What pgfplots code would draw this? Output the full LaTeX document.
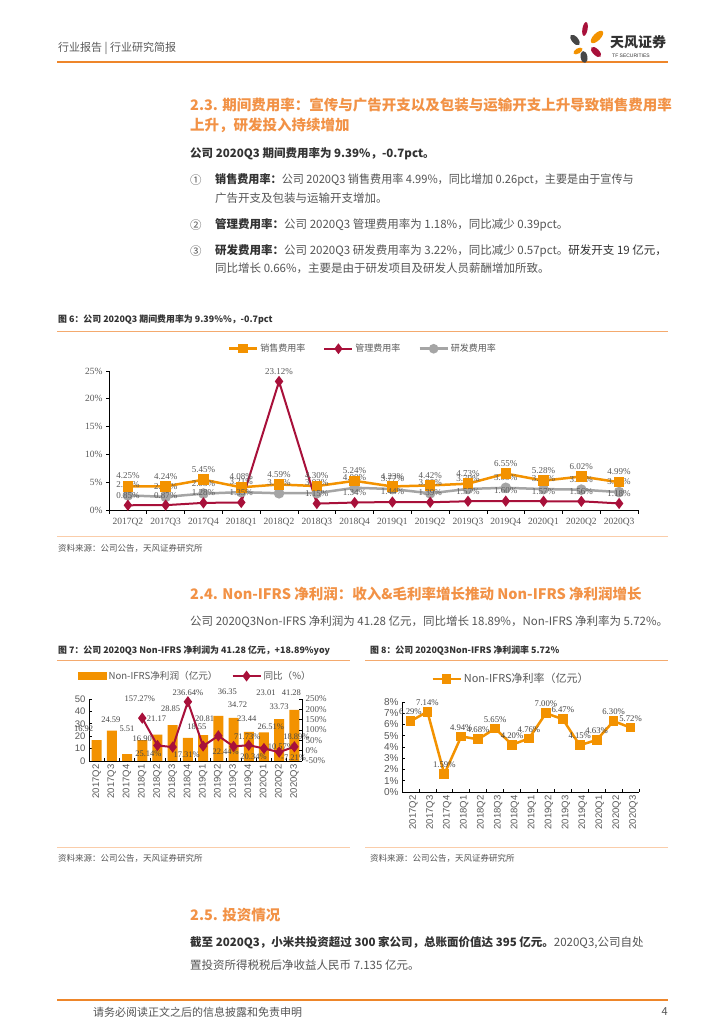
\documentclass[border=0pt]{standalone}
\usepackage{pgfplots}
\pgfplotsset{compat=1.18}
\usepackage{fontspec}
\setmainfont{Noto Sans CJK SC}
\newfontfamily\tnr{Liberation Serif}
\newfontfamily\arial{Liberation Sans}
\definecolor{hdrorange}{RGB}{238,134,42}
\definecolor{titleorange}{RGB}{242,146,70}
\definecolor{barorange}{RGB}{243,146,0}
\definecolor{crimson}{RGB}{168,16,58}
\definecolor{lgray}{RGB}{165,165,165}
\definecolor{dgray}{RGB}{70,70,70}
\definecolor{capline}{RGB}{244,170,110}
\definecolor{peach}{RGB}{250,205,170}
\definecolor{bodytxt}{RGB}{85,85,85}
\definecolor{boldtxt}{RGB}{50,50,50}
\definecolor{lbl}{RGB}{89,89,89}
\pgfplotsset{
  myline/.style={legend image code/.code={\draw[mark repeat=2,mark phase=2,##1] plot coordinates {(0pt,0pt) (14pt,0pt) (28pt,0pt)};}},
}
\begin{document}
\begin{tikzpicture}
\fill[white] (0,0) rectangle (724pt,1024pt);

% ---------------- Chart 6 ----------------
\begin{axis}[
  at={(109pt,514pt)}, anchor=south west, scale only axis, width=529pt, height=139pt,
  xmin=-0.5, xmax=13.5, ymin=0, ymax=25,
  axis lines=left, axis line style={-, black, line width=0.8pt},
  xtick={0,...,13},
  xticklabels={2017Q2,2017Q3,2017Q4,2018Q1,2018Q2,2018Q3,2018Q4,2019Q1,2019Q2,2019Q3,2019Q4,2020Q1,2020Q2,2020Q3},
  major x tick style={draw=none},
  minor xtick={-0.5,0.5,...,13.5}, minor tick length=4pt,
  tick align=outside, major tick length=3pt, tick style={black, line width=0.6pt},
  ytick={0,5,...,25},
  yticklabel={\pgfmathprintnumber[assume math mode=true]{\tick}\%},
  ticklabel style={font=\tnr\fontsize{9.5}{10}\selectfont, text=lbl},
  xticklabel style={yshift=-1.5pt},
  clip=false,
  legend style={at={(0.48,1.16)}, anchor=center, draw=none, fill=none, legend columns=3,
    font=\fontsize{9}{10}\selectfont, text=lbl,
    /tikz/every even column/.append style={column sep=16pt}},
  myline,
]
\addlegendimage{barorange, line width=2.5pt, mark=square*, mark size=3.5pt}
\addlegendentry{销售费用率}
\addlegendimage{crimson, line width=2pt, mark=diamond*, mark size=3.8pt}
\addlegendentry{管理费用率}
\addlegendimage{lgray, line width=2.5pt, mark=*, mark size=3.5pt}
\addlegendentry{研发费用率}
\addplot[lgray, line width=2.5pt, mark=*, mark size=4pt, forget plot,
  nodes near coords, point meta=explicit symbolic,
  every node near coord/.append style={font=\tnr\fontsize{9}{10}\selectfont, text=lbl, anchor=south, inner sep=1pt, yshift=5pt}]
 coordinates {(0,2.63)[2.63\%] (1,2.36)[2.36\%] (2,2.95)[2.95\%] (3,3.21)[3.21\%] (4,3.01)[3.01\%] (5,3.02)[3.02\%] (6,4.00)[4.00\%] (7,3.77)[3.77\%] (8,3.00)[3.00\%] (9,3.79)[3.79\%] (10,3.99)[3.99\%] (11,3.76)[3.76\%] (12,3.66)[3.66\%] (13,3.22)[3.22\%]};
\addplot[barorange, line width=2.5pt, mark=square*, mark size=4pt, forget plot,
  nodes near coords, point meta=explicit symbolic,
  every node near coord/.append style={font=\tnr\fontsize{9}{10}\selectfont, text=lbl, anchor=south, inner sep=1pt, yshift=5pt}]
 coordinates {(0,4.25)[4.25\%] (1,4.24)[4.24\%] (2,5.45)[5.45\%] (3,4.08)[4.08\%] (4,4.59)[4.59\%] (5,4.30)[4.30\%] (6,5.24)[5.24\%] (7,4.23)[4.23\%] (8,4.42)[4.42\%] (9,4.73)[4.73\%] (10,6.55)[6.55\%] (11,5.28)[5.28\%] (12,6.02)[6.02\%] (13,4.99)[4.99\%]};
\addplot[crimson, line width=2pt, mark=diamond*, mark size=4pt, forget plot,
  nodes near coords, point meta=explicit symbolic,
  every node near coord/.append style={font=\tnr\fontsize{9}{10}\selectfont, text=lbl, anchor=south, inner sep=1pt, yshift=5pt}]
 coordinates {(0,0.85)[0.85\%] (1,0.87)[0.87\%] (2,1.28)[1.28\%] (3,1.35)[1.35\%] (4,23.12)[23.12\%] (5,1.15)[1.15\%] (6,1.34)[1.34\%] (7,1.44)[1.44\%] (8,1.39)[1.39\%] (9,1.57)[1.57\%] (10,1.60)[1.60\%] (11,1.57)[1.57\%] (12,1.56)[1.56\%] (13,1.18)[1.18\%]};
\end{axis}

% ---------------- Chart 7 ----------------
\begin{axis}[
  at={(89pt,263pt)}, anchor=south west, scale only axis, width=213pt, height=62pt,
  xmin=-0.5, xmax=13.5, ymin=0, ymax=50,
  axis x line*=bottom, axis y line*=left, axis line style={-, black, line width=0.8pt},
  xtick={0,...,13},
  xticklabels={2017Q2,2017Q3,2017Q4,2018Q1,2018Q2,2018Q3,2018Q4,2019Q1,2019Q2,2019Q3,2019Q4,2020Q1,2020Q2,2020Q3},
  major x tick style={draw=none},
  minor xtick={-0.5,0.5,...,13.5}, minor tick length=3pt,
  tick align=inside, major tick length=3pt, tick style={black, line width=0.6pt},
  xticklabel style={rotate=90, anchor=east, font=\arial\fontsize{9.5}{10}\selectfont, text=lbl},
  ytick={0,10,...,50},
  yticklabel style={font=\arial\fontsize{9.5}{10}\selectfont, text=lbl},
  /pgf/number format/assume math mode=true,
  clip=false,
  legend style={at={(0.5,1.37)}, anchor=center, draw=none, fill=none, legend columns=2,
    font=\fontsize{9.6}{10}\selectfont, text=lbl,
    /tikz/every even column/.append style={column sep=12pt}},
]
\addlegendimage{legend image code/.code={\fill[barorange] (0pt,-3.5pt) rectangle (28pt,3.5pt);}}
\addlegendentry{Non-IFRS净利润（亿元）}
\addlegendimage{crimson, line width=2pt, mark=diamond*, mark size=3.8pt, myline}
\addlegendentry{同比（\%）}
\addplot[ybar, bar width=10pt, fill=barorange, draw=none, forget plot,
  nodes near coords={\pgfmathprintnumber[fixed,fixed zerofill,precision=2,assume math mode=true]{\pgfplotspointmeta}},
  point meta=explicit,
  visualization depends on={\thisrow{dx}\as\dx},
  visualization depends on={\thisrow{dy}\as\dy},
  every node near coord/.append style={font=\tnr\fontsize{8.5}{9}\selectfont, text=dgray, anchor=center, inner sep=0pt, xshift=\dx*1pt, yshift=\dy*1pt}]
 table[x=x, y=y, meta=y] {
x y dx dy
0 16.92 -13 11
1 24.59 -1 10.5
2 5.51 0 25
3 16.90 0 1
4 21.17 -1 15.7
5 28.85 -2 16
6 18.55 9 11
7 20.81 1.5 16
8 36.35 9 24
9 34.72 4 13
10 23.44 -2 13
11 23.01 2 39.5
12 33.73 0 12
13 41.28 -3 17
};
\end{axis}
\begin{axis}[
  at={(89pt,263pt)}, anchor=south west, scale only axis, width=213pt, height=62pt,
  xmin=-0.5, xmax=13.5, ymin=-50, ymax=250,
  axis x line=none, axis y line*=right, axis line style={-, black, line width=0.8pt},
  ytick={-50,0,...,250},
  yticklabel={\pgfmathprintnumber[assume math mode=true]{\tick}\%},
  yticklabel style={font=\tnr\fontsize{9}{10}\selectfont, text=lbl},
  tick align=inside, major tick length=3pt, tick style={black, line width=0.6pt},
  clip=false,
]
\addplot[crimson, line width=2pt, mark=diamond*, mark size=4pt,
  nodes near coords={\pgfmathprintnumber[fixed,fixed zerofill,precision=2,assume math mode=true]{\pgfplotspointmeta}\%},
  point meta=explicit,
  visualization depends on={\thisrow{dx}\as\dx},
  visualization depends on={\thisrow{dy}\as\dy},
  every node near coord/.append style={font=\tnr\fontsize{8.5}{9}\selectfont, text=dgray, anchor=center, inner sep=0pt, xshift=\dx*1pt, yshift=\dy*1pt}]
 table[x=x, y=y, meta=y] {
x y dx dy
3 157.27 -2.5 19
4 25.14 -9 -8.5
5 17.31 14 -8
6 236.64 0 9
7 22.44 22.5 -6
8 71.73 29 -1
9 20.34 20 -10.5
10 26.51 22 18
11 10.57 17 1.5
12 -7.21 14.4 -6
13 18.89 2 10
};
\end{axis}

% ---------------- Chart 8 ----------------
\begin{axis}[
  at={(402pt,232pt)}, anchor=south west, scale only axis, width=237pt, height=90pt,
  xmin=-0.5, xmax=13.5, ymin=0, ymax=8,
  axis x line*=bottom, axis y line*=left, axis line style={-, black, line width=0.8pt},
  xtick={0,...,13},
  xticklabels={2017Q2,2017Q3,2017Q4,2018Q1,2018Q2,2018Q3,2018Q4,2019Q1,2019Q2,2019Q3,2019Q4,2020Q1,2020Q2,2020Q3},
  major x tick style={draw=none},
  minor xtick={-0.5,0.5,...,13.5}, minor tick length=3pt,
  tick align=inside, major tick length=3pt, tick style={black, line width=0.6pt},
  xticklabel style={rotate=90, anchor=east, font=\arial\fontsize{9.5}{10}\selectfont, text=lbl, yshift=-3pt},
  ytick={0,1,...,8},
  yticklabel={\pgfmathprintnumber[assume math mode=true]{\tick}\%},
  yticklabel style={font=\arial\fontsize{10}{11}\selectfont, text=lbl},
  clip=false,
  legend style={at={(0.46,1.256)}, anchor=center, draw=none, fill=none,
    font=\fontsize{11}{12}\selectfont, text=lbl},
  myline,
]
\addplot[barorange, line width=2.5pt, mark=square*, mark size=3.6pt,
  nodes near coords, point meta=explicit symbolic,
  every node near coord/.append style={font=\tnr\fontsize{8.7}{9}\selectfont, text=dgray, anchor=south, inner sep=1pt, yshift=4pt}]
 coordinates {(0,6.29)[6.29\%] (1,7.14)[7.14\%] (2,1.59)[1.59\%] (3,4.94)[4.94\%] (4,4.68)[4.68\%] (5,5.65)[5.65\%] (6,4.20)[4.20\%] (7,4.76)[4.76\%] (8,7.00)[7.00\%] (9,6.47)[6.47\%] (10,4.15)[4.15\%] (11,4.63)[4.63\%] (12,6.30)[6.30\%] (13,5.72)[5.72\%]};
\addlegendentry{Non-IFRS净利率（亿元）}
\end{axis}

% ---------------- Page text ----------------
\begin{scope}[x=1pt, y=-1pt, yshift=1024pt]
% header
\node[anchor=west, inner sep=0, text=lbl, font=\fontsize{11}{12}\selectfont] at (58,48) {行业报告 | 行业研究简报};
\draw[hdrorange, line width=1.5pt] (57,62) -- (668,62);
% logo
\fill[crimson, rotate around={-10:(585,29)}] (585,29) ellipse (2.6pt and 7pt);
\fill[barorange, rotate around={-45:(597,37)}] (597,37) ellipse (3.6pt and 8pt);
\fill[dgray, rotate around={40:(575,40)}] (575,40) ellipse (3.2pt and 6.5pt);
\fill[barorange, rotate around={-60:(578,51)}] (578,51) ellipse (2.6pt and 5pt);
\fill[crimson, rotate around={45:(596,52)}] (596,52) ellipse (3.2pt and 6.5pt);
\fill[dgray, rotate around={10:(584,57)}] (584,57) ellipse (3.4pt and 6pt);
\node[anchor=west, inner sep=0, text=boldtxt, font=\fontsize{14}{15}\selectfont\bfseries] at (610,42) {天风证券};
\node[anchor=west, inner sep=0, text=boldtxt, font=\arial\fontsize{5}{6}\selectfont] at (612,56) {TF SECURITIES};

% section 2.3
\node[anchor=west, inner sep=0, text=titleorange, font=\fontsize{14.5}{15}\selectfont\bfseries] at (190,105) {2.3. 期间费用率：宣传与广告开支以及包装与运输开支上升导致销售费用率};
\node[anchor=west, inner sep=0, text=titleorange, font=\fontsize{14.5}{15}\selectfont\bfseries] at (190,125) {上升，研发投入持续增加};
\node[anchor=west, inner sep=0, text=boldtxt, font=\fontsize{11.5}{12}\selectfont\bfseries] at (190,154) {公司 2020Q3 期间费用率为 9.39\%，-0.7pct。};
\node[anchor=west, inner sep=0, text=bodytxt, font=\fontsize{11.5}{12}\selectfont] at (190,180) {①};
\node[anchor=west, inner sep=0, text=bodytxt, font=\fontsize{11.5}{12}\selectfont] at (215,180) {\scalebox{0.965}[1]{{\bfseries\color{boldtxt}销售费用率：}公司 2020Q3 销售费用率 4.99\%，同比增加 0.26pct，主要是由于宣传与}};
\node[anchor=west, inner sep=0, text=bodytxt, font=\fontsize{11.5}{12}\selectfont] at (215,198) {广告开支及包装与运输开支增加。};
\node[anchor=west, inner sep=0, text=bodytxt, font=\fontsize{11.5}{12}\selectfont] at (190,225) {②};
\node[anchor=west, inner sep=0, text=bodytxt, font=\fontsize{11.5}{12}\selectfont] at (215,225) {{\bfseries\color{boldtxt}管理费用率：}公司 2020Q3 管理费用率为 1.18\%，同比减少 0.39pct。};
\node[anchor=west, inner sep=0, text=bodytxt, font=\fontsize{11.5}{12}\selectfont] at (190,251) {③};
\node[anchor=west, inner sep=0, text=bodytxt, font=\fontsize{11.5}{12}\selectfont] at (215,251) {{\bfseries\color{boldtxt}研发费用率：}公司 2020Q3 研发费用率为 3.22\%，同比减少 0.57pct。{\color{boldtxt}研发开支 19 亿元，}};
\node[anchor=west, inner sep=0, text=bodytxt, font=\fontsize{11.5}{12}\selectfont] at (215,268) {同比增长 0.66\%，主要是由于研发项目及研发人员薪酬增加所致。};

% figure 6 caption
\node[anchor=west, inner sep=0, text=boldtxt, font=\fontsize{8.9}{9}\selectfont\bfseries] at (58,320) {图 6：公司 2020Q3 期间费用率为 9.39\%\%，-0.7pct};
\draw[capline, line width=1pt] (57,332) -- (668,332);
\draw[peach, line width=1pt] (57,537) -- (668,537);
\node[anchor=west, inner sep=0, text=bodytxt, font=\fontsize{8.5}{9}\selectfont] at (58,548) {资料来源：公司公告，天风证券研究所};

% section 2.4
\node[anchor=west, inner sep=0, text=titleorange, font=\fontsize{14.5}{15}\selectfont\bfseries] at (190,594) {2.4. Non-IFRS 净利润：收入\&毛利率增长推动 Non-IFRS 净利润增长};
\node[anchor=west, inner sep=0, text=bodytxt, font=\fontsize{11.5}{12}\selectfont] at (190,622) {公司 2020Q3Non-IFRS 净利润为 41.28 亿元，同比增长 18.89\%，Non-IFRS 净利率为 5.72\%。};

% figure 7/8 captions
\node[anchor=west, inner sep=0, text=boldtxt, font=\fontsize{8.9}{9}\selectfont\bfseries] at (58,651) {图 7：公司 2020Q3 Non-IFRS 净利润为 41.28 亿元，+18.89\%yoy};
\node[anchor=west, inner sep=0, text=boldtxt, font=\fontsize{8.9}{9}\selectfont\bfseries] at (370,651) {图 8：公司 2020Q3Non-IFRS 净利润率 5.72\%};
\draw[capline, line width=1pt] (57,661) -- (350,661);
\draw[capline, line width=1pt] (365,661) -- (668,661);
\draw[peach, line width=1pt] (57,848) -- (350,848);
\draw[peach, line width=1pt] (365,848) -- (668,848);
\node[anchor=west, inner sep=0, text=bodytxt, font=\fontsize{8.5}{9}\selectfont] at (58,858) {资料来源：公司公告，天风证券研究所};
\node[anchor=west, inner sep=0, text=bodytxt, font=\fontsize{8.5}{9}\selectfont] at (370,858) {资料来源：公司公告，天风证券研究所};

% section 2.5
\node[anchor=west, inner sep=0, text=titleorange, font=\fontsize{14.5}{15}\selectfont\bfseries] at (190,915) {2.5. 投资情况};
\node[anchor=west, inner sep=0, text=bodytxt, font=\fontsize{11.5}{12}\selectfont] at (190,943) {{\bfseries\color{boldtxt}截至 2020Q3，小米共投资超过 300 家公司，总账面价值达 395 亿元。}2020Q3,公司自处};
\node[anchor=west, inner sep=0, text=bodytxt, font=\fontsize{11.5}{12}\selectfont] at (190,965) {置投资所得税税后净收益人民币 7.135 亿元。};

% footer
\draw[hdrorange, line width=1.2pt] (57,1000) -- (668,1000);
\node[anchor=west, inner sep=0, text=bodytxt, font=\fontsize{11}{12}\selectfont] at (93,1012) {请务必阅读正文之后的信息披露和免责申明};
\node[anchor=east, inner sep=0, text=bodytxt, font=\fontsize{11}{12}\selectfont] at (668,1012) {4};
\end{scope}

\pgfresetboundingbox
\path[use as bounding box] (0,0) rectangle (724pt,1024pt);
\end{tikzpicture}
\end{document}
